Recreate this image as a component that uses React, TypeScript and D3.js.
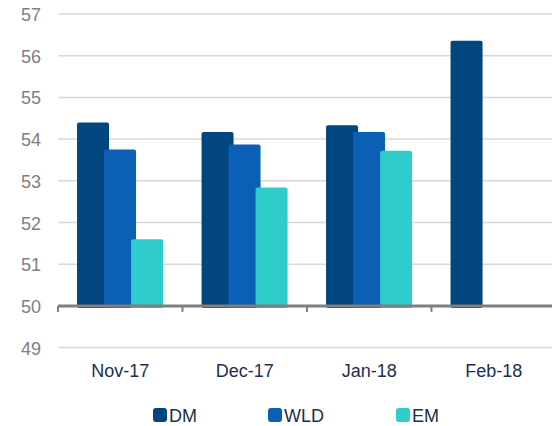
import { useEffect, useRef } from "react";
import { select, scaleBand, scaleLinear, range } from "d3";

const categories = ["Nov-17", "Dec-17", "Jan-18", "Feb-18"];
const seriesNames = ["DM", "WLD", "EM"];
const dmValues = [54.4, 54.17, 54.33, 56.36];
const wldValues = [53.75, 53.87, 54.17, null];
const emValues = [51.6, 52.84, 53.72, null];
const yTicks = [49, 50, 51, 52, 53, 54, 55, 56, 57];
const colors = ["#02467f", "#0b5fb4", "#2ecdcc"];

const W = 552;
const H = 426;

function App() {
  const svgRef = useRef<SVGSVGElement>(null);

  useEffect(() => {
    const svg = select(svgRef.current);
    svg.selectAll("*").remove();

    const x = scaleBand().domain(categories).range([58, 556]);
    const y = scaleLinear().domain([49, 57]).range([347.6, 14]);
    const bw = x.bandwidth();
    const font = "'Liberation Sans', Arial, sans-serif";

    // gridlines (50 is covered by the axis)
    svg
      .append("g")
      .selectAll("line")
      .data(yTicks.filter((d) => d !== 50))
      .join("line")
      .attr("x1", 58)
      .attr("x2", W)
      .attr("y1", (d) => y(d))
      .attr("y2", (d) => y(d))
      .attr("stroke", "#d9d9d9")
      .attr("stroke-width", 1.5);

    svg
      .append("g")
      .selectAll("text")
      .data(yTicks)
      .join("text")
      .attr("x", 41)
      .attr("y", (d) => y(d) + 7)
      .attr("text-anchor", "end")
      .attr("font-family", font)
      .attr("font-size", 18)
      .attr("fill", "#808080")
      .text((d) => d);

    const series = [dmValues, wldValues, emValues];
    series.forEach((vals, i) => {
      svg
        .append("g")
        .selectAll("rect")
        .data(vals.map((v, j) => ({ v, c: categories[j] })).filter((d) => d.v != null))
        .join("rect")
        .attr("x", (d) => x(d.c)! + bw * 0.153 + i * bw * 0.217)
        .attr("width", bw * 0.257)
        .attr("y", (d) => y(d.v as number))
        .attr("height", (d) => y(49.95) - y(d.v as number))
        .attr("rx", 2)
        .attr("fill", colors[i]);
    });

    // axis line + ticks
    svg
      .append("line")
      .attr("x1", 58)
      .attr("x2", W)
      .attr("y1", y(50))
      .attr("y2", y(50))
      .attr("stroke", "#7f7f7f")
      .attr("stroke-width", 3);

    svg
      .append("g")
      .selectAll("line")
      .data(range(categories.length + 1))
      .join("line")
      .attr("x1", (i) => 58 + i * bw)
      .attr("x2", (i) => 58 + i * bw)
      .attr("y1", y(50))
      .attr("y2", y(50) + 6)
      .attr("stroke", "#7f7f7f")
      .attr("stroke-width", 2);

    svg
      .append("g")
      .selectAll("text")
      .data(categories)
      .join("text")
      .attr("x", (d) => x(d)! + bw / 2)
      .attr("y", 377)
      .attr("text-anchor", "middle")
      .attr("font-family", font)
      .attr("font-size", 18)
      .attr("fill", "#1c2e52")
      .text((d) => d);

    // legend
    const legendX = [153, 268, 396];
    const legend = svg
      .append("g")
      .selectAll("g")
      .data(seriesNames)
      .join("g")
      .attr("transform", (_, i) => `translate(${legendX[i]},408)`);
    legend
      .append("rect")
      .attr("width", 14)
      .attr("height", 14)
      .attr("rx", 3)
      .attr("fill", (_, i) => colors[i]);
    legend
      .append("text")
      .attr("x", 16)
      .attr("y", 14)
      .attr("font-family", font)
      .attr("font-size", 18)
      .attr("fill", "#1c2e52")
      .text((d) => d);
  }, []);

  return (
    <svg
      ref={svgRef}
      width={W}
      height={H}
      style={{ position: "absolute", left: 0, top: 0, background: "#fff" }}
    />
  );
}

export default App;
